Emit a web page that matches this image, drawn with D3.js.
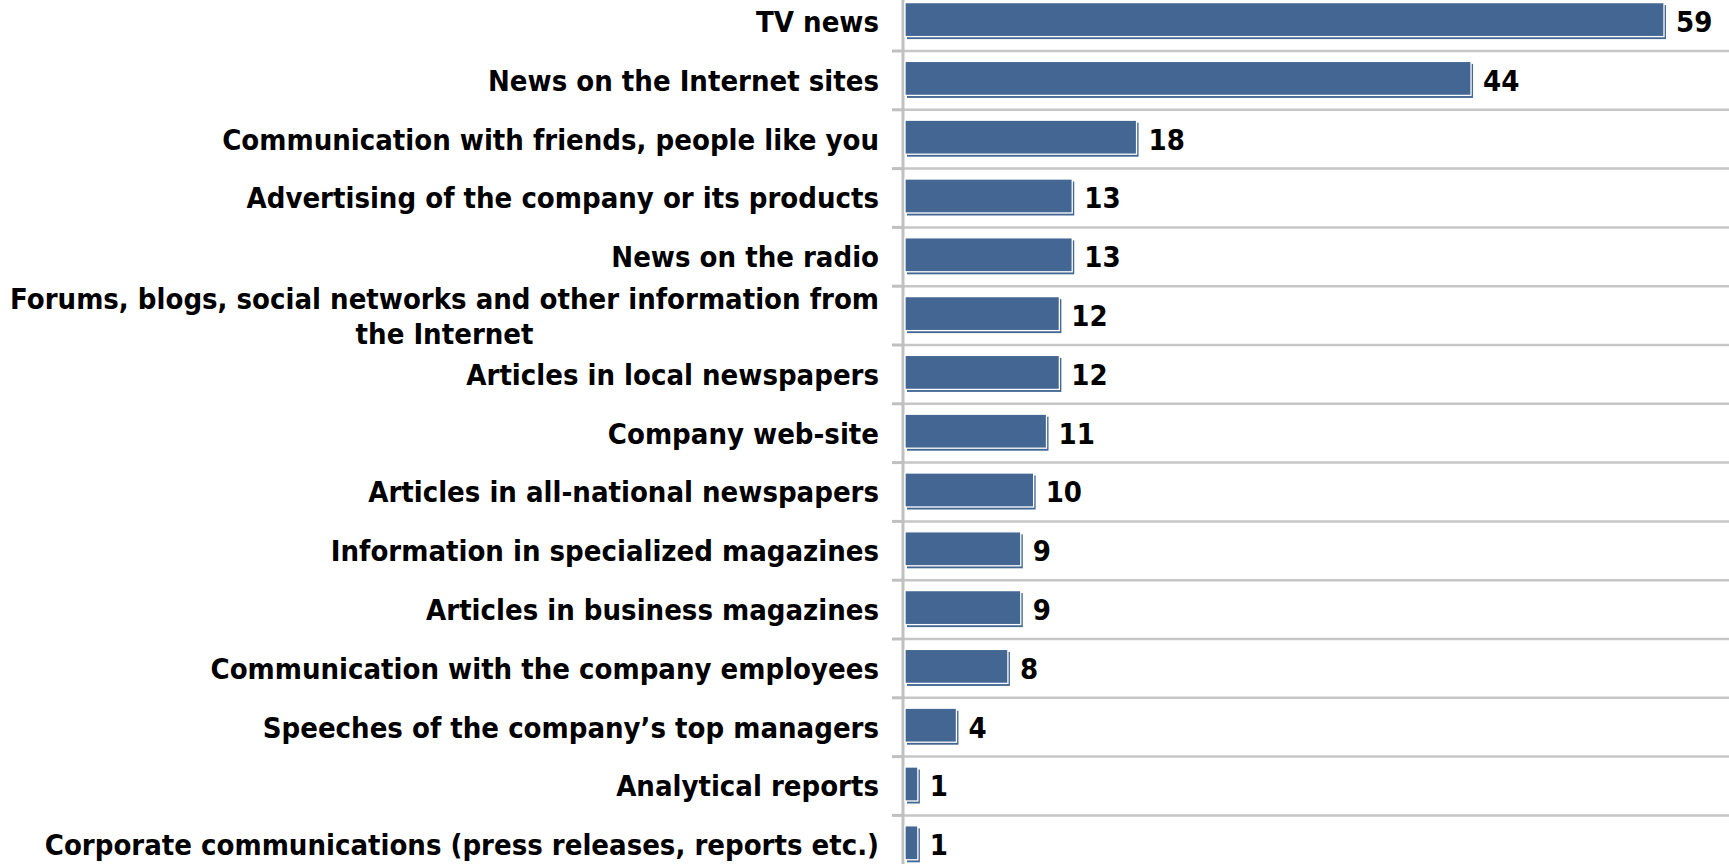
<!DOCTYPE html>
<html>
<head>
<meta charset="utf-8">
<script src="https://cdn.jsdelivr.net/npm/d3@7"></script>
<style>
  html, body { margin: 0; padding: 0; background: #fff; overflow: hidden; }
  svg { display: block; }
  .lbl { font-family: "DejaVu Sans", Verdana, sans-serif; font-weight: bold; font-stretch: condensed; fill: #000; }
</style>
</head>
<body>
<svg id="chart" width="1729" height="864"></svg>
<script>
// Information sources, share of respondents (%)
const categories = [
  "TV news",
  "News on the Internet sites",
  "Communication with friends, people like you",
  "Advertising of the company or its products",
  "News on the radio",
  "Forums, blogs, social networks and other information from the Internet",
  "Articles in local newspapers",
  "Company web-site",
  "Articles in all-national newspapers",
  "Information in specialized magazines",
  "Articles in business magazines",
  "Communication with the company employees",
  "Speeches of the company\u2019s top managers",
  "Analytical reports",
  "Corporate communications (press releases, reports etc.)"
];
const values = [59, 44, 18, 13, 13, 12, 12, 11, 10, 9, 9, 8, 4, 1, 1];

const W = 1729, H = 864;
const axisX = 903, labelRight = 879, wrapWidth = 880;
const barColor = "#436792";

const svg = d3.select("#chart");

const y = d3.scaleBand().domain(categories).range([-7.8, 874.2]).padding(0);
const x = d3.scaleLinear().domain([0, 59]).range([905, 1664]);
const barH = 34;

// gridlines at category boundaries
const bounds = categories.slice(1).map(c => y(c));
svg.append("g").selectAll("line").data(bounds).join("line")
  .attr("x1", axisX).attr("x2", W)
  .attr("y1", d => d).attr("y2", d => d)
  .attr("stroke", "#c6c6c6").attr("stroke-width", 2.5);

// tick marks left of the axis
svg.append("g").selectAll("line").data(bounds).join("line")
  .attr("x1", axisX - 11).attr("x2", axisX)
  .attr("y1", d => d).attr("y2", d => d)
  .attr("stroke", "#c0c0c0").attr("stroke-width", 3);

// vertical category axis
svg.append("line")
  .attr("x1", axisX).attr("x2", axisX).attr("y1", 0).attr("y2", H)
  .attr("stroke", "#c0c0c0").attr("stroke-width", 3);

const rows = categories.map((c, i) => ({ c, v: values[i] }));
const barY = d => y(d.c) + y.bandwidth() / 2 - 2 - barH / 2;

// bars: offset shadow edge, then bar with light rim
const bars = svg.append("g");
bars.selectAll("rect.sh").data(rows).join("rect").attr("class", "sh")
  .attr("x", x(0) + 2).attr("y", d => barY(d) + 2.5)
  .attr("width", d => x(d.v) - x(0)).attr("height", barH)
  .attr("fill", barColor);
bars.selectAll("rect.bar").data(rows).join("rect").attr("class", "bar")
  .attr("x", x(0)).attr("y", d => barY(d))
  .attr("width", d => x(d.v) - x(0)).attr("height", barH)
  .attr("fill", barColor).attr("stroke", "#ffffff").attr("stroke-width", 1.3);

// value labels
svg.append("g").selectAll("text").data(rows).join("text")
  .attr("class", "lbl")
  .attr("x", d => x(d.v) + 12)
  .attr("y", d => y(d.c) + y.bandwidth() / 2)
  .attr("dy", "0.36em")
  .style("font-size", "29px")
  .text(d => d.v);

// category labels, wrapped to the label column; wrapped blocks are centred lines
const lineH = 35;
const cat = svg.append("g").selectAll("text").data(rows).join("text")
  .attr("class", "lbl")
  .style("font-size", "29px");

cat.each(function (d) {
  const t = d3.select(this);
  const words = d.c.split(" ");
  const lines = [];
  let cur = [];
  const probe = t.append("tspan");
  const measure = s => { probe.text(s); return probe.node().getComputedTextLength(); };
  words.forEach(w => {
    const test = cur.concat(w).join(" ");
    if (measure(test) > wrapWidth && cur.length) {
      lines.push(cur.join(" "));
      cur = [w];
    } else {
      cur.push(w);
    }
  });
  lines.push(cur.join(" "));
  const widest = d3.max(lines, measure);
  probe.remove();
  const cy = y(d.c) + y.bandwidth() / 2;
  const multi = lines.length > 1;
  t.attr("text-anchor", multi ? "middle" : "end");
  const ax = multi ? labelRight - widest / 2 : labelRight;
  lines.forEach((ln, k) => {
    t.append("tspan")
      .attr("x", ax)
      .attr("y", cy + (k - (lines.length - 1) / 2) * lineH)
      .attr("dy", "0.36em")
      .text(ln);
  });
});
</script>
</body>
</html>
